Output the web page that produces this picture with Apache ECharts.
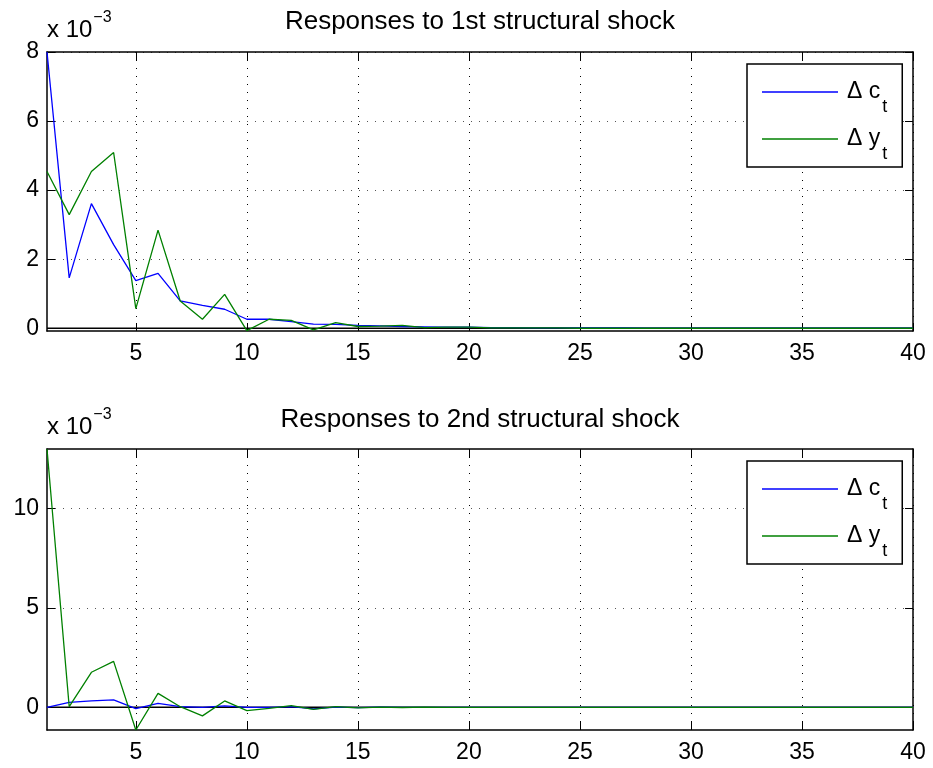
<!DOCTYPE html>
<html>
<head>
<meta charset="utf-8">
<script src="https://cdn.jsdelivr.net/npm/echarts@6/dist/echarts.min.js"></script>
<style>
html, body { margin: 0; padding: 0; background: #fff; }
#chart { width: 933px; height: 768px; }
</style>
</head>
<body>
<div id="chart"></div>
<script>
// impulse responses, values in units of 1e-3
const periods = [1, 2, 3, 4, 5, 6, 7, 8, 9, 10, 11, 12, 13, 14, 15, 16, 17, 18, 19, 20,
    21, 22, 23, 24, 25, 26, 27, 28, 29, 30, 31, 32, 33, 34, 35, 36, 37, 38, 39, 40]

const dc1 = [8.00, 1.46, 3.61, 2.42, 1.38, 1.59, 0.79, 0.66, 0.55, 0.26, 0.26, 0.19, 0.12, 0.11, 0.08,
    0.07, 0.05, 0.04, 0.03, 0.03, 0.02, 0.02, 0.01, 0.01, 0.01, 0.01, 0.01, 0, 0, 0,
    0, 0, 0, 0, 0, 0, 0, 0, 0, 0]
const dy1 = [4.54, 3.29, 4.54, 5.09, 0.57, 2.84, 0.79, 0.26, 0.98, -0.07, 0.26, 0.23, -0.05, 0.16, 0.05,
    0.06, 0.08, 0.02, 0.03, 0.03, 0.01, 0.01, 0.01, 0.01, 0, 0, 0, 0, 0, 0,
    0, 0, 0, 0, 0, 0, 0, 0, 0, 0]

const dc2 = [0.00, 0.25, 0.32, 0.37, -0.07, 0.20, 0.03, 0.00, 0.07, 0.00, 0.00, 0.03, -0.08, 0.01, -0.02,
    0.01, 0, 0, 0, 0, 0, 0, 0, 0, 0, 0, 0, 0, 0, 0,
    0, 0, 0, 0, 0, 0, 0, 0, 0, 0]
const dy2 = [12.98, 0.03, 1.76, 2.31, -1.14, 0.70, 0.03, -0.43, 0.32, -0.17, -0.05, 0.08, -0.10, 0.03, -0.03,
    0.01, -0.01, 0.01, 0, 0, 0, 0, 0, 0, 0, 0, 0, 0, 0, 0,
    0, 0, 0, 0, 0, 0, 0, 0, 0, 0]

const xTicks = [5, 10, 15, 20, 25, 30, 35, 40]
const yTicks1 = [0, 2, 4, 6, 8]
const yTicks2 = [0, 5, 10]
const titles = ['Responses to 1st structural shock', 'Responses to 2nd structural shock']
const seriesNames = ['Δ c', 'Δ y']

const font = '"Liberation Sans", Arial, Helvetica, sans-serif'
const black = '#000'

const chart = echarts.init(document.getElementById('chart'))

const grids = [
    { left: 47, top: 52, width: 866, height: 279, outerBoundsMode: 'none' },
    { left: 47, top: 449, width: 866, height: 281, outerBoundsMode: 'none' }
]
const yRange = [[-0.08, 8.0], [-1.14, 12.98]]
const yTicks = [yTicks1, yTicks2]

const axisLine = { show: true, onZero: false, lineStyle: { color: black, width: 1.5 } }

let xAxis = []
let yAxis = []
grids.forEach((g, i) => {
    xAxis.push({
        type: 'value', gridIndex: i, min: 1, max: 40, position: 'bottom',
        axisLine: axisLine,
        axisTick: { show: true, inside: true, length: 8, customValues: xTicks, lineStyle: { color: black } },
        axisLabel: { customValues: xTicks, color: black, fontSize: 23, fontFamily: font, margin: 11 },
        splitLine: { show: true, lineStyle: { color: black, width: 1, type: [1, 7] } }
    })
    xAxis.push({
        type: 'value', gridIndex: i, min: 1, max: 40, position: 'top',
        axisLine: axisLine,
        axisTick: { show: true, inside: true, length: 8, customValues: xTicks, lineStyle: { color: black } },
        axisLabel: { show: false },
        splitLine: { show: false }
    })
    yAxis.push({
        type: 'value', gridIndex: i, min: yRange[i][0], max: yRange[i][1], position: 'left',
        axisLine: axisLine,
        axisTick: { show: true, inside: true, length: 8, customValues: yTicks[i], lineStyle: { color: black } },
        axisLabel: { customValues: yTicks[i], color: black, fontSize: 23, fontFamily: font, margin: 8 },
        splitLine: { show: true, lineStyle: { color: '#555', width: 1, type: [1, 7] } }
    })
    yAxis.push({
        type: 'value', gridIndex: i, min: yRange[i][0], max: yRange[i][1], position: 'right',
        axisLine: axisLine,
        axisTick: { show: true, inside: true, length: 8, customValues: yTicks[i], lineStyle: { color: black } },
        axisLabel: { show: false },
        splitLine: { show: false }
    })
})

const pairs = (ys) => periods.map((p, k) => [p, ys[k]])

const lineSeries = function (name, color, ys, i) {
    return {
        name: name, type: 'line', xAxisIndex: i * 2, yAxisIndex: i * 2,
        data: pairs(ys), symbol: 'none', showSymbol: false,
        lineStyle: { color: color, width: 1.3 }, itemStyle: { color: color },
        emphasis: { disabled: true }
    }
}

const zeroSeries = function (i) {
    return {
        name: 'zero', type: 'line', xAxisIndex: i * 2, yAxisIndex: i * 2,
        data: periods.map(p => [p, 0]), symbol: 'none', showSymbol: false,
        lineStyle: { color: black, width: 1.5 }, emphasis: { disabled: true }
    }
}

const legendAt = (top) => ({
    orient: 'vertical', left: 747, top: top,
    padding: [4, 15, 4, 15], itemGap: -1,
    itemWidth: 76, itemHeight: 1.5, icon: 'rect',
    backgroundColor: '#fff', borderColor: black, borderWidth: 1.5, borderRadius: 0,
    selectedMode: false,
    data: seriesNames,
    formatter: name => '{a|' + name + '}{b|t}',
    textStyle: {
        color: black, fontFamily: font,
        rich: {
            a: { fontSize: 23, lineHeight: 23, fontFamily: font, color: black, padding: [0, 0, 0, 4] },
            b: { fontSize: 18, lineHeight: 18, fontFamily: font, color: black, padding: [30, 0, 0, 2] }
        }
    }
})

const titleText = (text, y) => ({
    type: 'text', x: 480, y: y, silent: true,
    style: { text: text, fill: black, fontSize: 26, fontFamily: font, align: 'center', verticalAlign: 'middle' }
})

const expText = (y) => ({
    type: 'text', x: 47, y: y, silent: true,
    style: {
        text: '{a|x 10}{b|−3}', fill: black, align: 'left', verticalAlign: 'top',
        rich: {
            a: { fontSize: 24, lineHeight: 24, fontFamily: font, color: black },
            b: { fontSize: 16, lineHeight: 16, fontFamily: font, color: black, padding: [0, 0, 24, 1] }
        }
    }
})

const option = {
    animation: false,
    backgroundColor: '#fff',
    grid: grids,
    xAxis: xAxis,
    yAxis: yAxis,
    legend: [legendAt(64), legendAt(461)],
    graphic: [titleText(titles[0], 22), titleText(titles[1], 420), expText(18), expText(415)],
    series: [
        zeroSeries(0),
        lineSeries(seriesNames[0], '#0000ff', dc1, 0),
        lineSeries(seriesNames[1], '#008000', dy1, 0),
        zeroSeries(1),
        lineSeries(seriesNames[0], '#0000ff', dc2, 1),
        lineSeries(seriesNames[1], '#008000', dy2, 1)
    ]
}

option && chart.setOption(option)
</script>
</body>
</html>
